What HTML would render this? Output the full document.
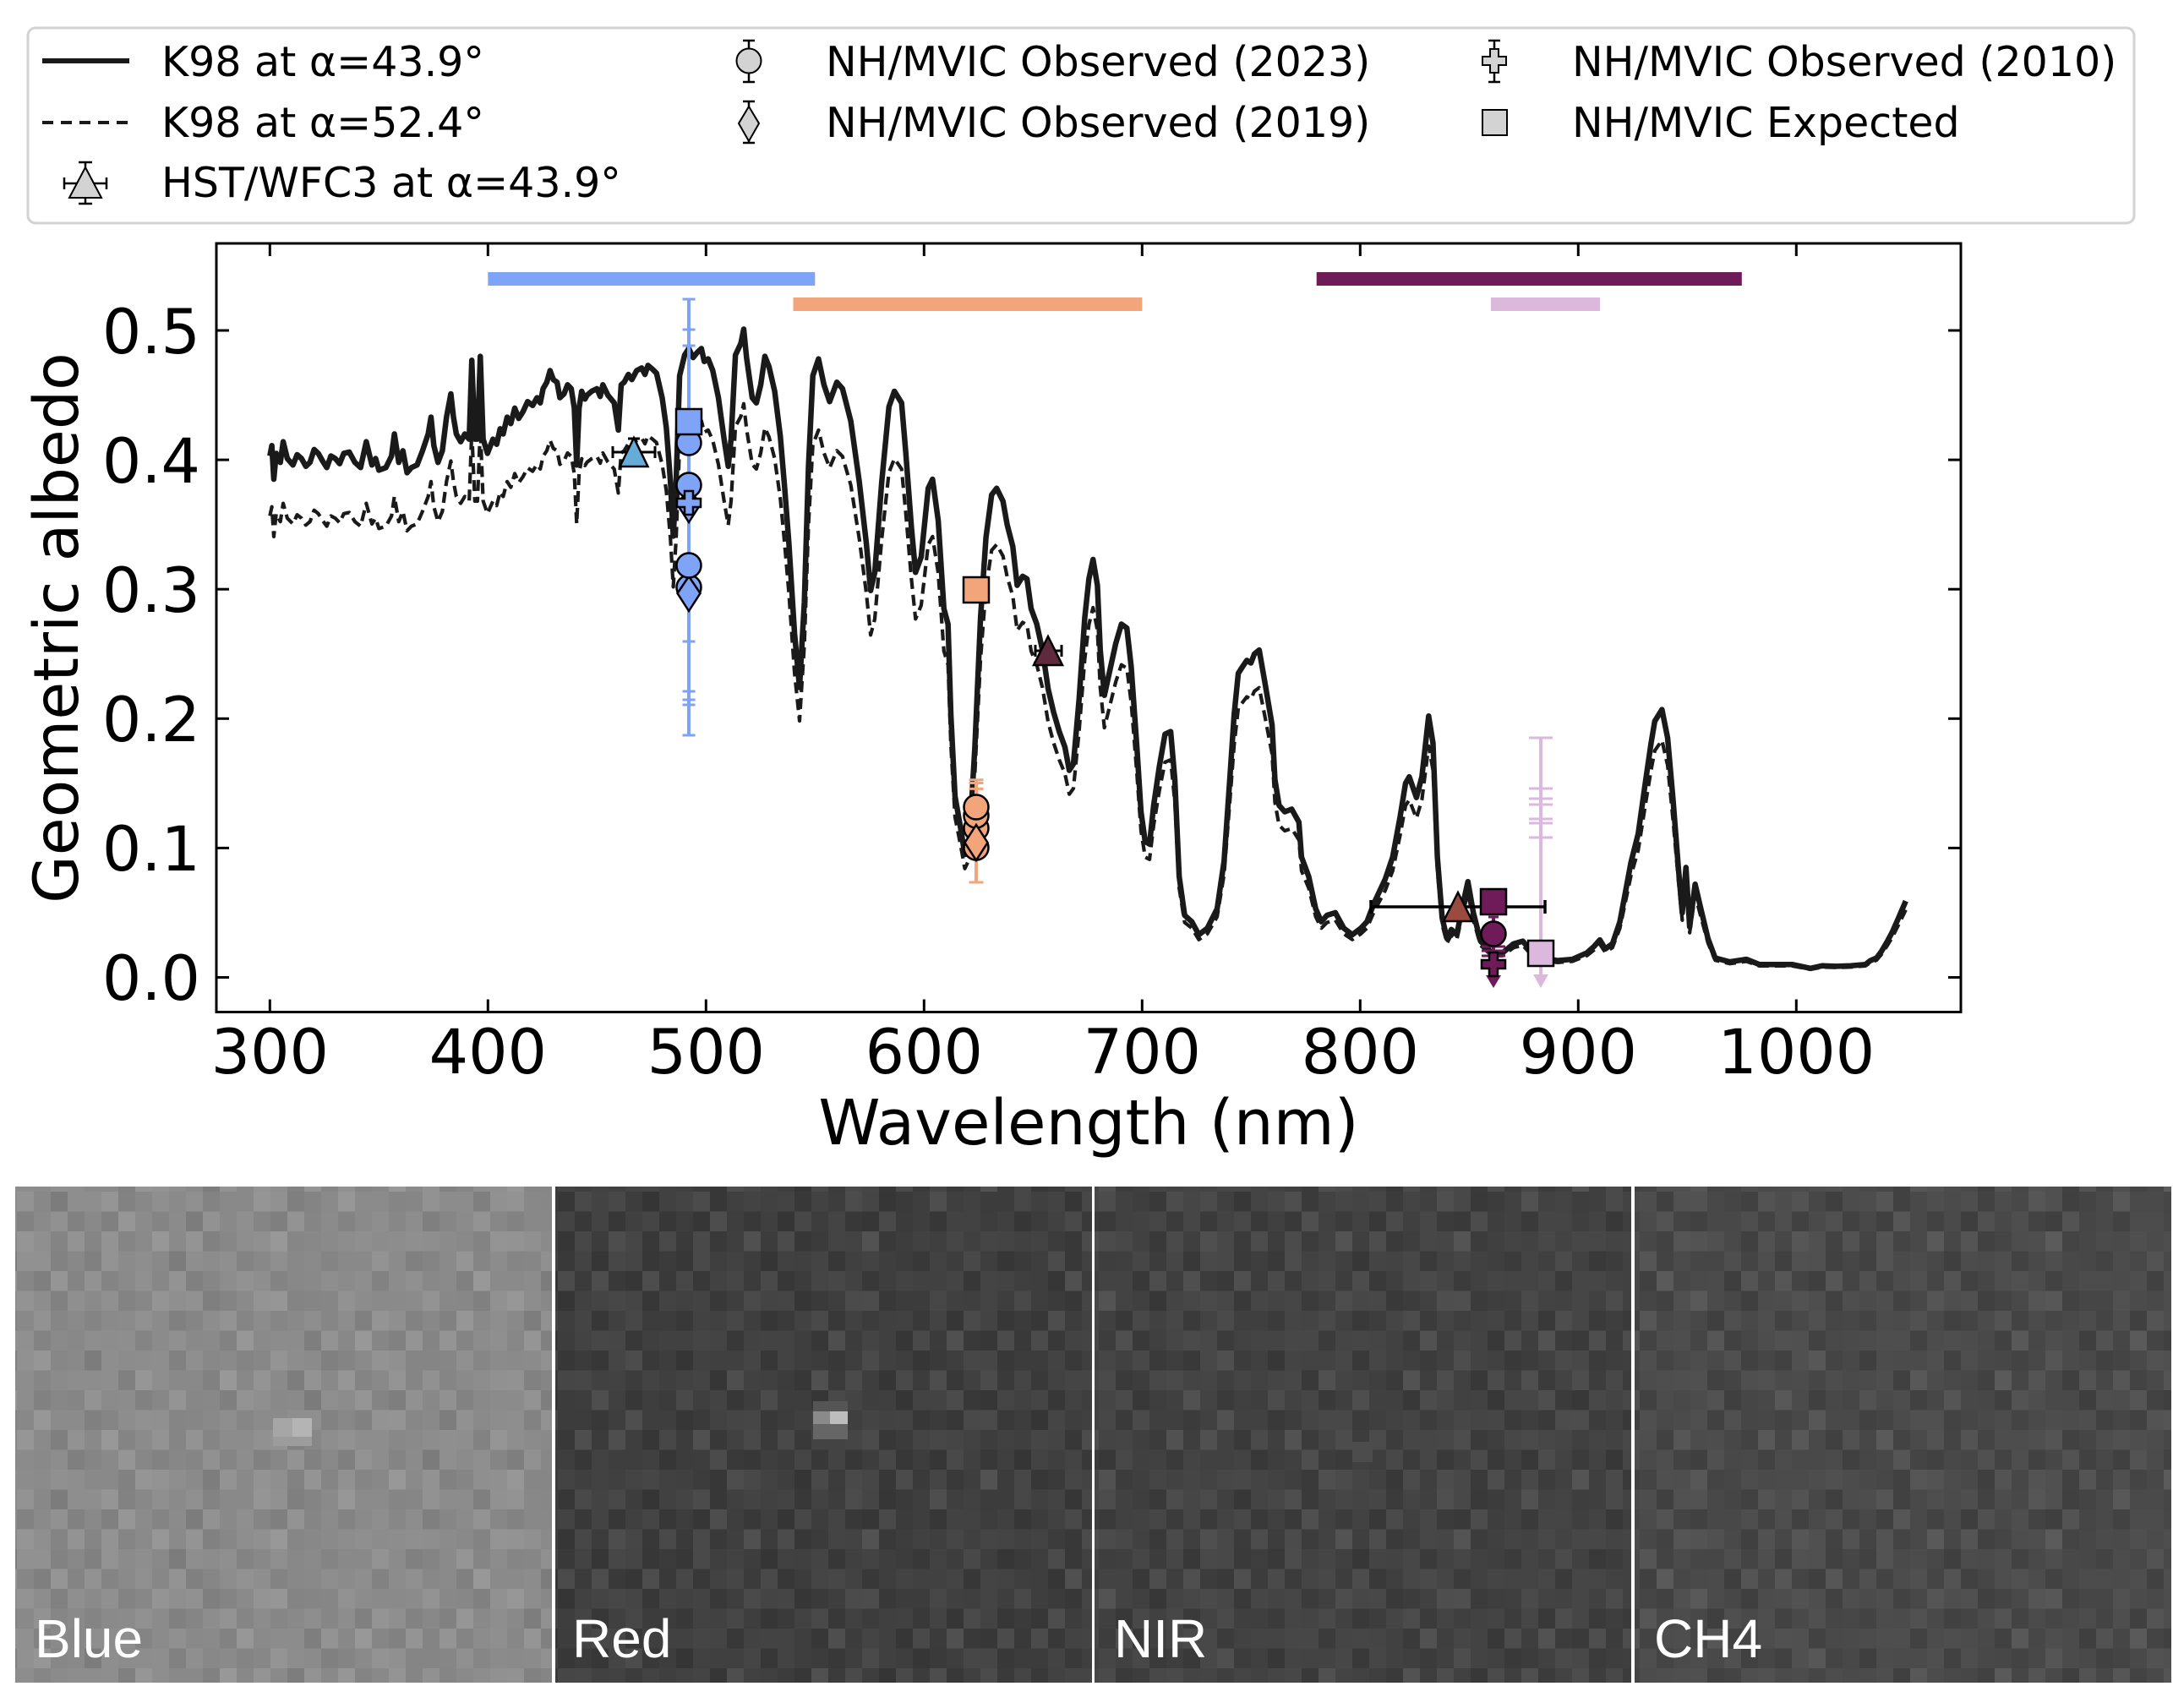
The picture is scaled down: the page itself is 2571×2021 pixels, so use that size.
<!DOCTYPE html>
<html>
<head>
<meta charset="utf-8">
<style>
html,body{margin:0;padding:0;background:#fff;}
svg{display:block;}
.t{font-family:"DejaVu Sans","Liberation Sans",sans-serif;fill:#000;}
.p{font-family:"Liberation Sans","DejaVu Sans",sans-serif;fill:#fff;}
</style>
</head>
<body>
<svg width="2571" height="2021" viewBox="0 0 2571 2021" xmlns="http://www.w3.org/2000/svg">
<defs>
<pattern id="nz" width="100" height="117.5" patternUnits="userSpaceOnUse">
<rect x="0" y="0" width="20" height="23.5" fill="#fff" fill-opacity=".05"/>
<rect x="20" y="0" width="20" height="23.5" fill="#fff" fill-opacity=".03"/>
<rect x="40" y="0" width="20" height="23.5" fill="#000" fill-opacity=".04"/>
<rect x="60" y="0" width="20" height="23.5" fill="#000" fill-opacity=".06"/>
<rect x="80" y="0" width="20" height="23.5" fill="#fff" fill-opacity=".02"/>
<rect x="0" y="23.5" width="20" height="23.5" fill="#000" fill-opacity=".03"/>
<rect x="20" y="23.5" width="20" height="23.5" fill="#000" fill-opacity=".05"/>
<rect x="40" y="23.5" width="20" height="23.5" fill="#fff" fill-opacity=".04"/>
<rect x="60" y="23.5" width="20" height="23.5" fill="#fff" fill-opacity=".02"/>
<rect x="80" y="23.5" width="20" height="23.5" fill="#000" fill-opacity=".01"/>
<rect x="0" y="47" width="20" height="23.5" fill="#fff" fill-opacity=".01"/>
<rect x="20" y="47" width="20" height="23.5" fill="#fff" fill-opacity=".06"/>
<rect x="40" y="47" width="20" height="23.5" fill="#000" fill-opacity=".02"/>
<rect x="60" y="47" width="20" height="23.5" fill="#000" fill-opacity=".04"/>
<rect x="80" y="47" width="20" height="23.5" fill="#fff" fill-opacity=".05"/>
<rect x="0" y="70.5" width="20" height="23.5" fill="#000" fill-opacity=".06"/>
<rect x="20" y="70.5" width="20" height="23.5" fill="#fff" fill-opacity=".02"/>
<rect x="40" y="70.5" width="20" height="23.5" fill="#fff" fill-opacity=".03"/>
<rect x="60" y="70.5" width="20" height="23.5" fill="#000" fill-opacity=".01"/>
<rect x="80" y="70.5" width="20" height="23.5" fill="#000" fill-opacity=".03"/>
<rect x="0" y="94" width="20" height="23.5" fill="#fff" fill-opacity=".04"/>
<rect x="20" y="94" width="20" height="23.5" fill="#000" fill-opacity=".02"/>
<rect x="40" y="94" width="20" height="23.5" fill="#000" fill-opacity=".05"/>
<rect x="60" y="94" width="20" height="23.5" fill="#fff" fill-opacity=".06"/>
<rect x="80" y="94" width="20" height="23.5" fill="#fff" fill-opacity=".01"/>
</pattern>
<pattern id="nz2" width="140" height="70.5" patternUnits="userSpaceOnUse">
<rect x="0" y="0" width="20" height="23.5" fill="#000" fill-opacity=".03"/>
<rect x="20" y="0" width="20" height="23.5" fill="#fff" fill-opacity=".04"/>
<rect x="40" y="0" width="20" height="23.5" fill="#fff" fill-opacity=".02"/>
<rect x="60" y="0" width="20" height="23.5" fill="#000" fill-opacity=".05"/>
<rect x="80" y="0" width="20" height="23.5" fill="#fff" fill-opacity=".01"/>
<rect x="100" y="0" width="20" height="23.5" fill="#000" fill-opacity=".02"/>
<rect x="120" y="0" width="20" height="23.5" fill="#fff" fill-opacity=".05"/>
<rect x="0" y="23.5" width="20" height="23.5" fill="#fff" fill-opacity=".05"/>
<rect x="20" y="23.5" width="20" height="23.5" fill="#000" fill-opacity=".01"/>
<rect x="40" y="23.5" width="20" height="23.5" fill="#000" fill-opacity=".04"/>
<rect x="60" y="23.5" width="20" height="23.5" fill="#fff" fill-opacity=".03"/>
<rect x="80" y="23.5" width="20" height="23.5" fill="#000" fill-opacity=".06"/>
<rect x="100" y="23.5" width="20" height="23.5" fill="#fff" fill-opacity=".02"/>
<rect x="120" y="23.5" width="20" height="23.5" fill="#000" fill-opacity=".03"/>
<rect x="0" y="47" width="20" height="23.5" fill="#000" fill-opacity=".02"/>
<rect x="20" y="47" width="20" height="23.5" fill="#fff" fill-opacity=".03"/>
<rect x="40" y="47" width="20" height="23.5" fill="#fff" fill-opacity=".06"/>
<rect x="60" y="47" width="20" height="23.5" fill="#000" fill-opacity=".01"/>
<rect x="80" y="47" width="20" height="23.5" fill="#fff" fill-opacity=".02"/>
<rect x="100" y="47" width="20" height="23.5" fill="#000" fill-opacity=".05"/>
<rect x="120" y="47" width="20" height="23.5" fill="#fff" fill-opacity=".01"/>
</pattern>
</defs>
<rect x="0" y="0" width="2571" height="2021" fill="#fff"/>

<!-- ================= LEGEND ================= -->
<rect x="33" y="33" width="2492" height="231" rx="9" ry="9" fill="#fff" stroke="#d2d2d2" stroke-width="3"/>
<line x1="50" y1="72" x2="153" y2="72" stroke="#1a1a1a" stroke-width="6"/>
<text class="t" x="191" y="90" font-size="49">K98 at α=43.9°</text>
<line x1="50" y1="145" x2="153" y2="145" stroke="#1a1a1a" stroke-width="4" stroke-dasharray="13 9"/>
<text class="t" x="191" y="162" font-size="49">K98 at α=52.4°</text>
<g stroke="#000" stroke-width="2.5" fill="none">
<line x1="101" y1="192" x2="101" y2="241"/>
<line x1="93" y1="192" x2="109" y2="192"/>
<line x1="93" y1="241" x2="109" y2="241"/>
<line x1="76" y1="217" x2="126" y2="217"/>
<line x1="76" y1="210" x2="76" y2="224"/>
<line x1="126" y1="210" x2="126" y2="224"/>
</g>
<polygon points="101,198 120,234 82,234" fill="#d3d3d3" stroke="#000" stroke-width="2"/>
<text class="t" x="191" y="233" font-size="49">HST/WFC3 at α=43.9°</text>
<g stroke="#000" stroke-width="2.5">
<line x1="886" y1="48" x2="886" y2="97"/>
<line x1="879" y1="48" x2="893" y2="48"/>
<line x1="879" y1="97" x2="893" y2="97"/>
</g>
<circle cx="886" cy="72" r="14.5" fill="#d3d3d3" stroke="#000" stroke-width="2"/>
<text class="t" x="977" y="90" font-size="49">NH/MVIC Observed (2023)</text>
<g stroke="#000" stroke-width="2.5">
<line x1="886" y1="120" x2="886" y2="169"/>
<line x1="879" y1="120" x2="893" y2="120"/>
<line x1="879" y1="169" x2="893" y2="169"/>
</g>
<polygon points="886,126 898,146 886,167 874,146" fill="#d3d3d3" stroke="#000" stroke-width="2"/>
<text class="t" x="977" y="162" font-size="49">NH/MVIC Observed (2019)</text>
<g stroke="#000" stroke-width="2.5">
<line x1="1768" y1="48" x2="1768" y2="97"/>
<line x1="1761" y1="48" x2="1775" y2="48"/>
<line x1="1761" y1="97" x2="1775" y2="97"/>
</g>
<polygon points="1763,58 1773,58 1773,67 1782,67 1782,77 1773,77 1773,86 1763,86 1763,77 1754,77 1754,67 1763,67" fill="#d3d3d3" stroke="#000" stroke-width="2"/>
<text class="t" x="1860" y="90" font-size="49">NH/MVIC Observed (2010)</text>
<rect x="1754" y="130" width="29" height="30" fill="#d3d3d3" stroke="#000" stroke-width="2"/>
<text class="t" x="1860" y="162" font-size="49">NH/MVIC Expected</text>

<!-- ================= AXES ================= -->
<rect x="577.3" y="322" width="387" height="16" fill="#7fa3f7"/>
<rect x="938.5" y="352" width="412.8" height="16" fill="#f2a57b"/>
<rect x="1557.7" y="322" width="503.1" height="16" fill="#6f1a59"/>
<rect x="1764" y="352" width="129" height="16" fill="#dcb9dc"/>

<path transform="matrix(2.58 0 0 -1.3549 -454.7 1156.5)" vector-effect="non-scaling-stroke" fill="none" stroke="#1a1a1a" stroke-width="4.2" stroke-dasharray="13 7" stroke-linejoin="round"
d="M300 403L300.9 411L301.8 385L302.9 405L304.8 398L306.1 414L308 401L310.6 396L312.5 404L314.5 401L316.5 395L318.4 398L320.3 408L322.2 405L324.2 399L326.1 394L328 403L330 401L332 397L333.9 405L336.4 406L339 398L341.6 394L344.2 414L346.8 396L348.5 401L350 392L353.2 394L355.8 403L357.1 420L359.1 398L361 407L362.9 390L364.9 394L367.5 396L370 407L372.6 420L373.9 433L375.2 411L377.1 398L379.1 407L381 433L383 451L384.2 433L385.5 420L387.5 414L389.4 420L391.4 416L392.6 477L394 416L395.2 416L396.5 480L397.8 416L399.8 405L402.3 416L404 412L405.6 424L407 420L408.8 433L410.5 428L412.3 440L414.1 432L416 437L418.2 445L420.5 442L422.5 448L424 444L425.3 455L427 460L428.5 469L430 462L431.7 460L433 448L434.9 451L436.5 458L438.2 455L439.6 440L440.7 396L441.8 440L443 453L444.5 447L445.5 450L447.6 453L450 455L451.5 449L452.7 458L455 450L457.9 444L459.8 423L461.1 458L462.5 460L464.4 466L466 462L468.2 469L470.5 471L472 466L473.4 473L475.5 470L477.3 467L479.9 448L481.8 425L483.7 383L485 341L486.3 383L487.9 465L490.2 481L492.1 486L494.1 479L496 483L497.9 486L499.2 476L501 478L503.1 469L505.7 448L508.3 416L510.2 395L511.5 416L513.5 481L516 490L517.3 501L518.6 479L521.2 448L523.1 444L525.1 458L527 480L528.9 472L531.5 453L534.1 418L536 380L538 336L540.6 266L542.9 224L545.1 290L547 395L549 465L551.6 478L554.1 458L556.7 445L560 460L562.6 455L566.4 430L570.3 383L573.5 336L575.5 299L577.4 313L580.6 383L583.9 441L586.4 453L589.7 444L591.6 406L594.2 348L596.1 313L598.7 325L601.9 378L603.9 385L606.5 353L609.1 285L611 273L612.3 203L614.2 140L616.8 115L618.7 95L620.7 103L623.3 178L625.9 278L628.4 340L631 373L633.3 378L636.2 368L638.1 350L640.7 333L642.7 303L645.2 310L647.2 308L649.1 285L651.7 273L654.3 253L656.9 223L659.4 205L662 190L664.6 178L666.6 160L668.5 165L671.1 215L673.7 278L675.6 308L677.5 323L679.5 303L680.8 253L682.7 218L685.3 238L687.9 258L690.5 273L693 270L695 240L697.6 178L699.5 128L701.4 105L703.4 103L705.3 133L707.9 163L710.5 188L713.1 190L715 153L717 78L719.5 48L722.8 43L726 33L729.9 38L734.4 53L737.6 90L740.2 153L742.2 203L744.1 235L746 240L748 245L749.9 243L751.5 250L753.7 253L756.3 228L759.6 195L760.9 153L762.8 133L765.4 128L768.6 130L771.9 120L773.1 93L776.4 78L779.6 53L782.2 43L784.8 48L788.6 50L792.5 38L796.4 33L800.3 38L803.1 43L806.5 58L811.5 76L814.9 93L818.3 124L820.8 150L822.5 155L825.8 139L828.3 155L831.4 202L833.4 181L835.4 93L837.6 46L839.8 30L841.8 37L844.3 33L846.8 54L849.4 74L851.9 50L855.2 28L860.3 19L865.3 19L870.4 26L874.6 28L878.8 19L883.8 15L890.5 13L897.3 14L904 19L907.3 24L909.9 29L912.4 22L915.7 26L919.1 43L924.2 89L927.5 111L930.9 152L933.4 181L935.1 198L938.4 207L941 185L943.5 137L946 83L947.7 50L949.4 85L951.1 39L953.6 72L956.1 54L959.5 30L962.8 15L969.5 12L977.1 14L983 10L990 10L998.1 10L1006.5 7L1012 9L1018.3 8.6L1025 9L1031.7 10L1034 13L1036.8 15L1039 20L1041.8 28L1044 35L1046.9 46L1050.2 59"/>
<path transform="matrix(2.58 0 0 -1.531 -454.7 1156.5)" vector-effect="non-scaling-stroke" fill="none" stroke="#1a1a1a" stroke-width="6.5" stroke-linejoin="round"
d="M300 403L300.9 411L301.8 385L302.9 405L304.8 398L306.1 414L308 401L310.6 396L312.5 404L314.5 401L316.5 395L318.4 398L320.3 408L322.2 405L324.2 399L326.1 394L328 403L330 401L332 397L333.9 405L336.4 406L339 398L341.6 394L344.2 414L346.8 396L348.5 401L350 392L353.2 394L355.8 403L357.1 420L359.1 398L361 407L362.9 390L364.9 394L367.5 396L370 407L372.6 420L373.9 433L375.2 411L377.1 398L379.1 407L381 433L383 451L384.2 433L385.5 420L387.5 414L389.4 420L391.4 416L392.6 477L394 416L395.2 416L396.5 480L397.8 416L399.8 405L402.3 416L404 412L405.6 424L407 420L408.8 433L410.5 428L412.3 440L414.1 432L416 437L418.2 445L420.5 442L422.5 448L424 444L425.3 455L427 460L428.5 469L430 462L431.7 460L433 448L434.9 451L436.5 458L438.2 455L439.6 440L440.7 396L441.8 440L443 453L444.5 447L445.5 450L447.6 453L450 455L451.5 449L452.7 458L455 450L457.9 444L459.8 423L461.1 458L462.5 460L464.4 466L466 462L468.2 469L470.5 471L472 466L473.4 473L475.5 470L477.3 467L479.9 448L481.8 425L483.7 383L485 341L486.3 383L487.9 465L490.2 481L492.1 486L494.1 479L496 483L497.9 486L499.2 476L501 478L503.1 469L505.7 448L508.3 416L510.2 395L511.5 416L513.5 481L516 490L517.3 501L518.6 479L521.2 448L523.1 444L525.1 458L527 480L528.9 472L531.5 453L534.1 418L536 380L538 336L540.6 266L542.9 224L545.1 290L547 395L549 465L551.6 478L554.1 458L556.7 445L560 460L562.6 455L566.4 430L570.3 383L573.5 336L575.5 299L577.4 313L580.6 383L583.9 441L586.4 453L589.7 444L591.6 406L594.2 348L596.1 313L598.7 325L601.9 378L603.9 385L606.5 353L609.1 285L611 273L612.3 203L614.2 140L616.8 115L618.7 95L620.7 103L623.3 178L625.9 278L628.4 340L631 373L633.3 378L636.2 368L638.1 350L640.7 333L642.7 303L645.2 310L647.2 308L649.1 285L651.7 273L654.3 253L656.9 223L659.4 205L662 190L664.6 178L666.6 160L668.5 165L671.1 215L673.7 278L675.6 308L677.5 323L679.5 303L680.8 253L682.7 218L685.3 238L687.9 258L690.5 273L693 270L695 240L697.6 178L699.5 128L701.4 105L703.4 103L705.3 133L707.9 163L710.5 188L713.1 190L715 153L717 78L719.5 48L722.8 43L726 33L729.9 38L734.4 53L737.6 90L740.2 153L742.2 203L744.1 235L746 240L748 245L749.9 243L751.5 250L753.7 253L756.3 228L759.6 195L760.9 153L762.8 133L765.4 128L768.6 130L771.9 120L773.1 93L776.4 78L779.6 53L782.2 43L784.8 48L788.6 50L792.5 38L796.4 33L800.3 38L803.1 43L806.5 58L811.5 76L814.9 93L818.3 124L820.8 150L822.5 155L825.8 139L828.3 155L831.4 202L833.4 181L835.4 93L837.6 46L839.8 30L841.8 37L844.3 33L846.8 54L849.4 74L851.9 50L855.2 28L860.3 19L865.3 19L870.4 26L874.6 28L878.8 19L883.8 15L890.5 13L897.3 14L904 19L907.3 24L909.9 29L912.4 22L915.7 26L919.1 43L924.2 89L927.5 111L930.9 152L933.4 181L935.1 198L938.4 207L941 185L943.5 137L946 83L947.7 50L949.4 85L951.1 39L953.6 72L956.1 54L959.5 30L962.8 15L969.5 12L977.1 14L983 10L990 10L998.1 10L1006.5 7L1012 9L1018.3 8.6L1025 9L1031.7 10L1034 13L1036.8 15L1039 20L1041.8 28L1044 35L1046.9 46L1050.2 59"/>

<!-- HST triangle (blue) -->
<g stroke="#000" stroke-width="3">
<line x1="725" y1="535" x2="775" y2="535"/>
<line x1="725" y1="528" x2="725" y2="542"/>
<line x1="775" y1="528" x2="775" y2="542"/>
<line x1="750" y1="519" x2="750" y2="551"/>
<line x1="743" y1="519" x2="757" y2="519"/>
<line x1="743" y1="551" x2="757" y2="551"/>
</g>
<polygon points="750,518 766.5,552 733.5,552" fill="#66acd9" stroke="#000" stroke-width="2.5"/>

<!-- Blue cluster -->
<g stroke="#7fa3f7">
<line x1="815" y1="354" x2="815" y2="870" stroke-width="4"/>
<g stroke-width="3">
<line x1="807.5" y1="354" x2="822.5" y2="354"/>
<line x1="807.5" y1="390" x2="822.5" y2="390"/>
<line x1="807.5" y1="409" x2="822.5" y2="409"/>
<line x1="807.5" y1="759" x2="822.5" y2="759"/>
<line x1="807.5" y1="818" x2="822.5" y2="818"/>
<line x1="807.5" y1="828" x2="822.5" y2="828"/>
<line x1="807.5" y1="834" x2="822.5" y2="834"/>
<line x1="807.5" y1="870" x2="822.5" y2="870"/>
</g>
</g>
<g fill="#7fa3f7" stroke="#000" stroke-width="2.5">
<polygon points="815,577 828.5,597 815,618 801.5,597"/>
<circle cx="815" cy="524" r="14.5"/>
<circle cx="815" cy="574" r="14.5"/>
<polygon points="810,581 820,581 820,590 829,590 829,600 820,600 820,609 810,609 810,600 801,600 801,590 810,590"/>
<rect x="800" y="484" width="30" height="30"/>
<circle cx="815" cy="695" r="14.5"/>
<polygon points="815,682 828.5,702 815,723 801.5,702"/>
<circle cx="815" cy="669" r="14.5"/>
</g>

<!-- Orange cluster -->
<g stroke="#f2a57b">
<line x1="1155" y1="922" x2="1155" y2="1044" stroke-width="4"/>
<g stroke-width="3">
<line x1="1146.5" y1="922.7" x2="1163.5" y2="922.7"/>
<line x1="1146.5" y1="926.5" x2="1163.5" y2="926.5"/>
<line x1="1146.5" y1="933.4" x2="1163.5" y2="933.4"/>
<line x1="1146.5" y1="1044" x2="1163.5" y2="1044"/>
</g>
</g>
<g fill="#f2a57b" stroke="#000" stroke-width="2.5">
<rect x="1140" y="683" width="30" height="30"/>
<circle cx="1155" cy="1003" r="14.5"/>
<circle cx="1155" cy="980" r="14.5"/>
<circle cx="1155" cy="965" r="14.5"/>
<polygon points="1155,976 1168.5,997 1155,1018 1141.5,997"/>
<circle cx="1155" cy="955" r="14.5"/>
</g>

<!-- Maroon triangle -->
<g stroke="#000" stroke-width="3">
<line x1="1225" y1="770" x2="1256" y2="770"/>
<line x1="1225" y1="763" x2="1225" y2="777"/>
<line x1="1256" y1="763" x2="1256" y2="777"/>
<line x1="1240" y1="763" x2="1240" y2="777"/>
<line x1="1234" y1="763" x2="1246" y2="763"/>
</g>
<polygon points="1240,753 1257,787 1223,787" fill="#5f2a3d" stroke="#000" stroke-width="2.5"/>

<!-- Light purple -->
<g stroke="#dcb9dc">
<line x1="1823" y1="873" x2="1823" y2="1158" stroke-width="4"/>
<g stroke-width="3">
<line x1="1809" y1="873" x2="1837" y2="873"/>
<line x1="1809" y1="933" x2="1837" y2="933"/>
<line x1="1809" y1="945" x2="1837" y2="945"/>
<line x1="1809" y1="952" x2="1837" y2="952"/>
<line x1="1809" y1="969" x2="1837" y2="969"/>
<line x1="1809" y1="974" x2="1837" y2="974"/>
<line x1="1809" y1="991" x2="1837" y2="991"/>
</g>
</g>
<polygon points="1814,1153 1832,1153 1823,1169" fill="#dcb9dc"/>

<!-- Brown triangle -->
<g stroke="#000" stroke-width="3.5">
<line x1="1622" y1="1073" x2="1828" y2="1073"/>
<line x1="1622" y1="1065" x2="1622" y2="1081"/>
<line x1="1828" y1="1065" x2="1828" y2="1081"/>
</g>
<polygon points="1725,1056 1742,1090 1708,1090" fill="#9a4b3d" stroke="#000" stroke-width="2.5"/>

<!-- Dark purple -->
<g stroke="#6f1a59">
<line x1="1767" y1="1085" x2="1767" y2="1158" stroke-width="4"/>
<g stroke-width="3">
<line x1="1761" y1="1085" x2="1773" y2="1085"/>
<line x1="1753" y1="1120" x2="1781" y2="1120"/>
<line x1="1753" y1="1125" x2="1781" y2="1125"/>
<line x1="1753" y1="1131" x2="1781" y2="1131"/>
</g>
</g>
<polygon points="1758,1154 1776,1154 1767,1169" fill="#6f1a59"/>
<g fill="#6f1a59" stroke="#000" stroke-width="2.5">
<rect x="1752" y="1052" width="30" height="30"/>
<circle cx="1767" cy="1105" r="14.5"/>
<polygon points="1762,1127 1772,1127 1772,1136 1781,1136 1781,1146 1772,1146 1772,1155 1762,1155 1762,1146 1753,1146 1753,1136 1762,1136"/>
</g>
<rect x="1808" y="1113" width="30" height="30" fill="#dcb9dc" stroke="#000" stroke-width="2.5"/>

<!-- frame -->
<rect x="256" y="288" width="2064" height="909.5" fill="none" stroke="#000" stroke-width="3"/>
<g stroke="#000" stroke-width="3">
<line x1="319.3" y1="1197.5" x2="319.3" y2="1182.5"/><line x1="319.3" y1="288" x2="319.3" y2="303"/>
<line x1="577.3" y1="1197.5" x2="577.3" y2="1182.5"/><line x1="577.3" y1="288" x2="577.3" y2="303"/>
<line x1="835.3" y1="1197.5" x2="835.3" y2="1182.5"/><line x1="835.3" y1="288" x2="835.3" y2="303"/>
<line x1="1093.3" y1="1197.5" x2="1093.3" y2="1182.5"/><line x1="1093.3" y1="288" x2="1093.3" y2="303"/>
<line x1="1351.3" y1="1197.5" x2="1351.3" y2="1182.5"/><line x1="1351.3" y1="288" x2="1351.3" y2="303"/>
<line x1="1609.3" y1="1197.5" x2="1609.3" y2="1182.5"/><line x1="1609.3" y1="288" x2="1609.3" y2="303"/>
<line x1="1867.3" y1="1197.5" x2="1867.3" y2="1182.5"/><line x1="1867.3" y1="288" x2="1867.3" y2="303"/>
<line x1="2125.3" y1="1197.5" x2="2125.3" y2="1182.5"/><line x1="2125.3" y1="288" x2="2125.3" y2="303"/>
<line x1="256" y1="1156.5" x2="271" y2="1156.5"/><line x1="2320" y1="1156.5" x2="2305" y2="1156.5"/>
<line x1="256" y1="1003.4" x2="271" y2="1003.4"/><line x1="2320" y1="1003.4" x2="2305" y2="1003.4"/>
<line x1="256" y1="850.3" x2="271" y2="850.3"/><line x1="2320" y1="850.3" x2="2305" y2="850.3"/>
<line x1="256" y1="697.2" x2="271" y2="697.2"/><line x1="2320" y1="697.2" x2="2305" y2="697.2"/>
<line x1="256" y1="544.1" x2="271" y2="544.1"/><line x1="2320" y1="544.1" x2="2305" y2="544.1"/>
<line x1="256" y1="391" x2="271" y2="391"/><line x1="2320" y1="391" x2="2305" y2="391"/>
</g>

<g class="t" font-size="73" text-anchor="middle">
<text x="319.3" y="1270">300</text>
<text x="577.3" y="1270">400</text>
<text x="835.3" y="1270">500</text>
<text x="1093.3" y="1270">600</text>
<text x="1351.3" y="1270">700</text>
<text x="1609.3" y="1270">800</text>
<text x="1867.3" y="1270">900</text>
<text x="2125.3" y="1270">1000</text>
</g>
<g class="t" font-size="73" text-anchor="end">
<text x="237" y="1183">0.0</text>
<text x="237" y="1030">0.1</text>
<text x="237" y="877">0.2</text>
<text x="237" y="724">0.3</text>
<text x="237" y="571">0.4</text>
<text x="237" y="418">0.5</text>
</g>
<text class="t" x="1288" y="1354" font-size="74" text-anchor="middle">Wavelength (nm)</text>
<text class="t" transform="translate(92,743) rotate(-90)" x="0" y="0" font-size="73" text-anchor="middle">Geometric albedo</text>

<!-- ================= IMAGE PANELS ================= -->
<rect x="18" y="1404" width="635" height="587" fill="#8b8b8b"/>
<rect x="18" y="1404" width="635" height="587" fill="url(#nz)"/>
<rect x="18" y="1404" width="635" height="587" fill="url(#nz2)"/>
<rect x="323" y="1678" width="23" height="33" fill="#a6a6a6"/>
<rect x="346" y="1678" width="23" height="33" fill="#b4b4b4"/>
<rect x="323" y="1700" width="46" height="11" fill="#9c9c9c"/>

<rect x="657" y="1404" width="635" height="587" fill="#3b3b3b"/>
<rect x="657" y="1404" width="635" height="587" fill="url(#nz)"/>
<rect x="657" y="1404" width="635" height="587" fill="url(#nz2)"/>
<rect x="962" y="1658" width="41" height="12" fill="#555"/>
<rect x="962" y="1670" width="20" height="15" fill="#8a8a8a"/>
<rect x="982" y="1670" width="21" height="15" fill="#bdbdbd"/>
<rect x="962" y="1685" width="41" height="18" fill="#666"/>

<rect x="1295" y="1404" width="635" height="587" fill="#3e3e3e"/>
<rect x="1295" y="1404" width="635" height="587" fill="url(#nz)"/>
<rect x="1295" y="1404" width="635" height="587" fill="url(#nz2)"/>
<rect x="1600" y="1706" width="24" height="24" fill="#4c4c4c"/>

<rect x="1934" y="1404" width="635" height="587" fill="#464646"/>
<rect x="1934" y="1404" width="635" height="587" fill="url(#nz)"/>
<rect x="1934" y="1404" width="635" height="587" fill="url(#nz2)"/>

<text class="p" x="41" y="1961" font-size="64">Blue</text>
<text class="p" x="677" y="1961" font-size="64">Red</text>
<text class="p" x="1318" y="1961" font-size="64">NIR</text>
<text class="p" x="1957" y="1961" font-size="64">CH4</text>
</svg>
</body>
</html>
